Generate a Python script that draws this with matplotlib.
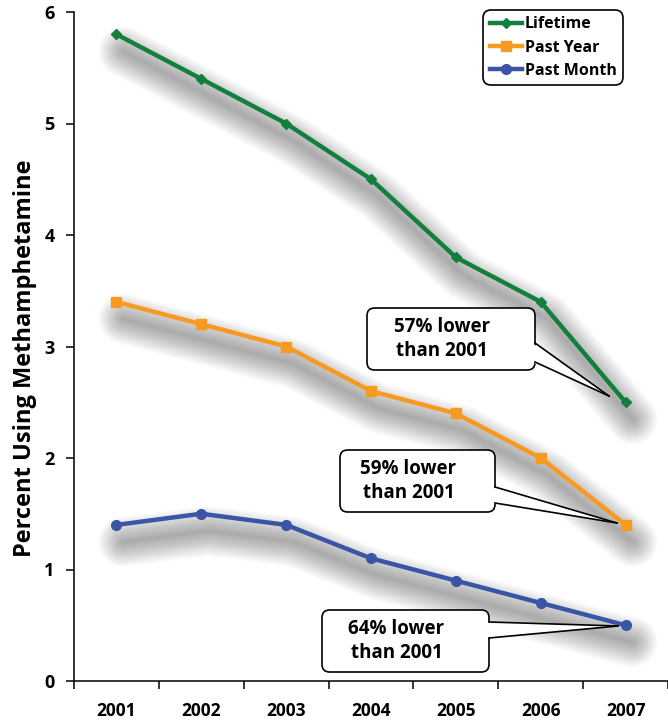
import matplotlib
matplotlib.use("Agg")
import matplotlib.pyplot as plt
import matplotlib.transforms as mtransforms
from matplotlib.patches import FancyBboxPatch, Polygon
from matplotlib.lines import Line2D

years = ["2001", "2002", "2003", "2004", "2005", "2006", "2007"]
lifetime = [5.8, 5.4, 5.0, 4.5, 3.8, 3.4, 2.5]
past_year = [3.4, 3.2, 3.0, 2.6, 2.4, 2.0, 1.4]
past_month = [1.4, 1.5, 1.4, 1.1, 0.9, 0.7, 0.5]
series_names = ["Lifetime", "Past Year", "Past Month"]
callout_texts = ["57% lower\nthan 2001", "59% lower\nthan 2001", "64% lower\nthan 2001"]

plt.rcParams['font.family'] = ['Open Sans', 'DejaVu Sans']
plt.rcParams['font.weight'] = 'bold'

W, H = 668, 725
fig = plt.figure(figsize=(W / 100, H / 100), dpi=100)
ax = fig.add_axes([74 / W, 1 - 681 / H, (668 - 74) / W, (681 - 12) / H])

x = list(range(len(years)))
colors = ["#12803c", "#f79a21", "#3a54a6"]
markers = ["D", "s", "o"]
msizes = [5.5, 6.5, 7]
data = [lifetime, past_year, past_month]

# blurred drop shadows
shadow_tr = mtransforms.offset_copy(ax.transData, fig=fig, x=7, y=-17, units='dots')
for vals in data:
    for lw in range(36, 1, -2):
        ax.plot(x, vals, color="black", lw=lw, alpha=0.02, transform=shadow_tr,
                solid_capstyle='round', solid_joinstyle='round', zorder=1)

handles = []
for vals, c, m, ms, name in zip(data, colors, markers, msizes, series_names):
    h, = ax.plot(x, vals, color=c, lw=3.2, marker=m, ms=ms, mec=c, mfc=c,
                 label=name, zorder=3, clip_on=False)
    handles.append(h)

ax.set_xlim(-0.5, 6.5)
ax.set_ylim(0, 6)
ax.set_yticks([0, 1, 2, 3, 4, 5, 6])
ax.set_xticks(x)
ax.set_xticklabels(years, fontsize=12.5, fontweight='bold')
ax.set_xticks([i - 0.5 for i in range(len(years) + 1)], minor=True)
ax.tick_params(axis='x', which='major', length=0, pad=15)
ax.tick_params(axis='x', which='minor', length=6, width=1.1, direction='out')
ax.tick_params(axis='y', which='major', length=6, width=1.1, direction='out',
               labelsize=13, pad=8)
for lab in ax.get_yticklabels():
    lab.set_fontweight('bold')
for s in ["top", "right"]:
    ax.spines[s].set_visible(False)
for s in ["left", "bottom"]:
    ax.spines[s].set_linewidth(1.1)
ax.set_ylabel("Percent Using Methamphetamine", fontsize=17, fontweight='bold')
ax.yaxis.set_label_coords(-0.062, 0.483)

leg = ax.legend(handles=handles, loc='upper right',
                bbox_to_anchor=(623 / W, 1 - 10 / H), bbox_transform=fig.transFigure,
                prop={'weight': 'bold', 'size': 11.5}, handlelength=2.0,
                handletextpad=0.2, labelspacing=0.45, borderpad=0.4,
                borderaxespad=0, fancybox=True, framealpha=1, edgecolor='black')
leg.get_frame().set_linewidth(1.2)
leg.get_frame().set_boxstyle('round,pad=0,rounding_size=0.5')


def px2d(px, py):
    return ((px - 74) / ((668 - 74) / 7) - 0.5, (681 - py) / ((681 - 12) / 6))


callouts = [
    # box (x0,y0,x1,y1) in px, base y1,y2 on right edge, tip
    ((367, 308, 535, 370), (343, 362), (609, 396)),
    ((340, 450, 495, 512), (487, 503), (617, 523)),
    ((322, 610, 489, 672), (622, 638), (618, 626)),
]
for ((bx0, by0, bx1, by1), (b1, b2), (tx, ty)), txt in zip(callouts, callout_texts):
    x0, y1d = px2d(bx0, by1)
    x1, y0d = px2d(bx1, by0)
    box = FancyBboxPatch((x0, y1d), x1 - x0, y0d - y1d,
                         boxstyle='round,pad=0,rounding_size=0.09',
                         mutation_aspect=(6 / 669) / (7 / 594),
                         fc='white', ec='black', lw=1.2, zorder=6)
    ax.add_patch(box)
    p1 = px2d(bx1, b1)
    p2 = px2d(bx1, b2)
    pin1 = px2d(bx1 - 3, b1)
    pin2 = px2d(bx1 - 3, b2)
    tip = px2d(tx, ty)
    ax.add_patch(Polygon([pin1, tip, pin2], closed=True, fc='white', ec='none', zorder=7))
    ax.add_line(Line2D([p1[0], tip[0]], [p1[1], tip[1]], color='black', lw=1.2, zorder=8))
    ax.add_line(Line2D([p2[0], tip[0]], [p2[1], tip[1]], color='black', lw=1.2, zorder=8))
    cx, cy = px2d((bx0 + bx1) / 2 - 9, (by0 + by1) / 2)
    ax.text(cx, cy, txt, ha='center', va='center', fontsize=13.5, fontweight='bold',
            linespacing=1.25, zorder=9)

fig.savefig("out.png", dpi=100)
